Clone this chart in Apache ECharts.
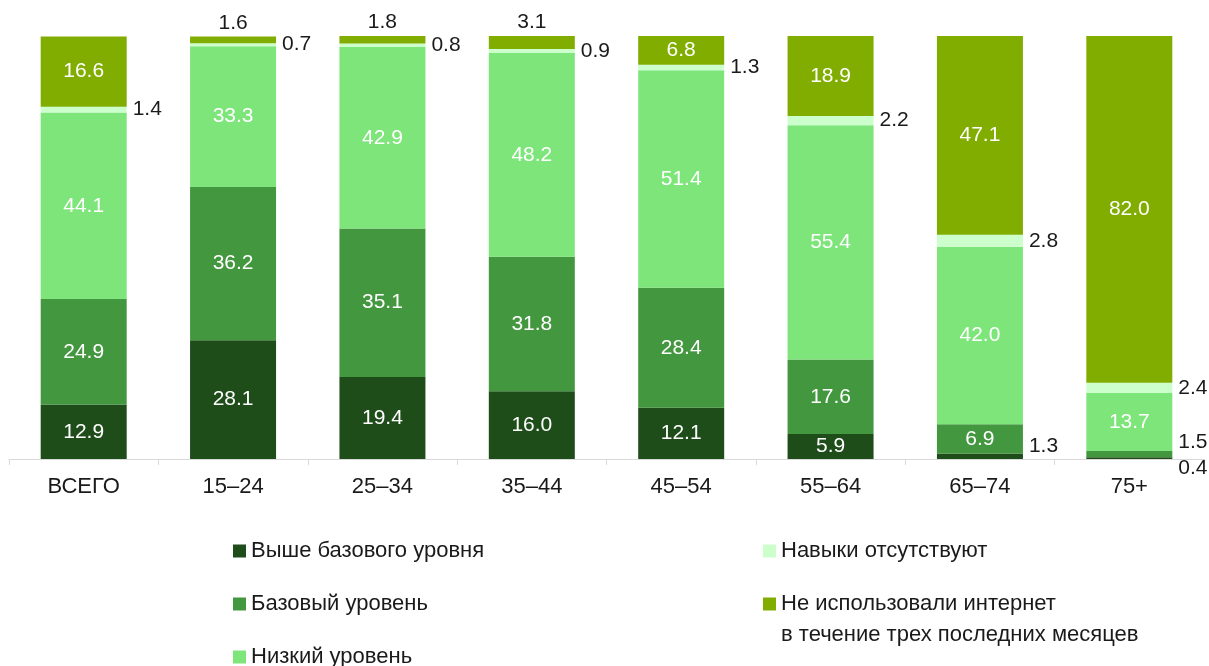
<!DOCTYPE html>
<html><head><meta charset="utf-8">
<script src="https://cdn.jsdelivr.net/npm/echarts@6/dist/echarts.min.js"></script>
<style>html,body{margin:0;padding:0;background:#fff}#c{width:1209px;height:666px}</style>
</head><body><div id="c"></div>
<script>
const categories = ['ВСЕГО','15–24','25–34','35–44','45–54','55–64','65–74','75+'];
const seriesNames = ['Выше базового уровня','Базовый уровень','Низкий уровень','Навыки отсутствуют','Не использовали интернет\nв течение трех последних месяцев'];
const aboveBasic = [12.9, 28.1, 19.4, 16.0, 12.1, 5.9, 1.3, 0.4];
const basic      = [24.9, 36.2, 35.1, 31.8, 28.4, 17.6, 6.9, 1.5];
const low        = [44.1, 33.3, 42.9, 48.2, 51.4, 55.4, 42.0, 13.7];
const noSkills   = [1.4, 0.7, 0.8, 0.9, 1.3, 2.2, 2.8, 2.4];
const notUsed    = [16.6, 1.6, 1.8, 3.1, 6.8, 18.9, 47.1, 82.0];
const colors = ['#1E4D1A', '#43973F', '#7DE57A', '#CCFFCC', '#80AD00'];

const FONT = '"Liberation Sans", Arial, sans-serif';
const allVals = [aboveBasic, basic, low, noSkills, notUsed];
const VFS = 21;

function itemLabel(si, v, ci) {
  const base = {show: true, fontSize: VFS, fontFamily: FONT, formatter: () => v.toFixed(1)};
  if (v >= 5) return Object.assign(base, {position: 'inside', color: '#fff'});
  base.color = '#1a1a1a';
  if (si === 3) return Object.assign(base, {position: 'right', distance: 6});
  if (si === 4) return Object.assign(base, {position: 'top', distance: 3});
  if (si === 0) return Object.assign(base, {position: 'right', distance: 6, offset: ci === 7 ? [0, 10] : [0, -10]});
  if (si === 1) return Object.assign(base, {position: 'right', distance: 6, offset: [0, -12]});
  return Object.assign(base, {position: 'inside', color: '#fff'});
}

const series = allVals.map((arr, si) => ({
  name: seriesNames[si],
  type: 'bar',
  stack: 'total',
  barWidth: 86,
  itemStyle: {color: colors[si]},
  data: arr.map((v, ci) => ({value: v, label: itemLabel(si, v, ci)})),
  emphasis: {disabled: true}
}));

const chart = echarts.init(document.getElementById('c'));
chart.setOption({
  animation: false,
  textStyle: {fontFamily: FONT},
  grid: {left: 9, right: 5, top: 36, bottom: 207, containLabel: false},
  xAxis: {
    type: 'category', data: categories,
    axisLine: {lineStyle: {color: '#d9d9d9', width: 1}},
    axisTick: {show: true, length: 6, lineStyle: {color: '#d9d9d9'}},
    axisLabel: {fontSize: 22, color: '#1a1a1a', margin: 17, fontFamily: FONT}
  },
  yAxis: {type: 'value', min: 0, max: 100, show: false},
  legend: [
    {
      left: 233, top: 540, height: 150, padding: 0, orient: 'vertical', itemGap: 31, itemWidth: 13, itemHeight: 13, icon: 'rect',
      data: seriesNames.slice(0, 3),
      textStyle: {fontSize: 22, color: '#1a1a1a', fontFamily: FONT}
    },
    {
      left: 763, top: 540, height: 150, padding: 0, orient: 'vertical', itemGap: 31, itemWidth: 13, itemHeight: 13, icon: 'rect',
      data: seriesNames.slice(3),
      formatter: n => n.split('\n')[0],
      textStyle: {fontSize: 22, color: '#1a1a1a', fontFamily: FONT}
    }
  ],
  graphic: [{
    type: 'text', left: 781, top: 624,
    style: {text: seriesNames[4].split('\n')[1], fontSize: 22, fill: '#1a1a1a', fontFamily: FONT}
  }],
  series: series
});
</script></body></html>
